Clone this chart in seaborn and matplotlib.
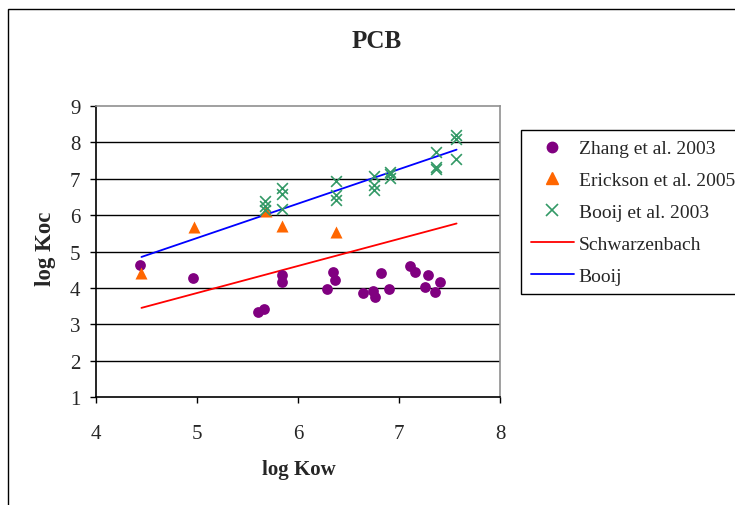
import matplotlib
matplotlib.use("Agg")
import matplotlib.pyplot as plt
import seaborn as sns
import pandas as pd
from matplotlib.patches import Rectangle
from matplotlib.lines import Line2D

# ---- data ----
zhang_x = [4.44, 4.96, 5.60, 5.66, 5.84, 5.84, 6.35, 6.37, 6.29, 6.64, 6.74, 6.76,
           6.82, 6.90, 7.11, 7.16, 7.29, 7.26, 7.36, 7.41]
zhang_y = [4.64, 4.27, 3.33, 3.42, 4.36, 4.16, 4.45, 4.22, 3.98, 3.85, 3.91, 3.74,
           4.40, 3.98, 4.60, 4.45, 4.36, 4.03, 3.89, 4.16]

erickson_x = [4.45, 4.97, 5.68, 5.84, 6.38]
erickson_y = [4.41, 5.67, 6.12, 5.71, 5.53]

booij_x = [5.67, 5.67, 5.67, 5.84, 5.84, 5.84, 6.38, 6.38, 6.38, 6.75, 6.75, 6.75,
           6.91, 6.91, 6.91, 7.37, 7.37, 7.37, 7.56, 7.56, 7.56]
booij_y = [6.39, 6.25, 6.13, 6.75, 6.57, 6.18, 6.94, 6.55, 6.42, 7.07, 6.83, 6.70,
           7.18, 7.13, 7.01, 7.73, 7.31, 7.27, 8.20, 8.09, 7.53]

schwarz_x = [4.45, 7.57]
schwarz_y = [3.45, 5.77]
booijfit_x = [4.45, 7.57]
booijfit_y = [4.85, 7.80]

x_ticks = [4, 5, 6, 7, 8]
y_ticks = [1, 2, 3, 4, 5, 6, 7, 8, 9]

labels = ["Zhang et al. 2003", "Erickson et al. 2005", "Booij et al. 2003",
          "Schwarzenbach", "Booij"]

df_z = pd.DataFrame({"x": zhang_x, "y": zhang_y})
df_e = pd.DataFrame({"x": erickson_x, "y": erickson_y})
df_b = pd.DataFrame({"x": booij_x, "y": booij_y})
df_s = pd.DataFrame({"x": schwarz_x, "y": schwarz_y})
df_bf = pd.DataFrame({"x": booijfit_x, "y": booijfit_y})

sns.set_style("white")
plt.rcParams["font.family"] = ["Liberation Serif", "DejaVu Serif"]

W, H = 735, 506
fig = plt.figure(figsize=(W / 100, H / 100), dpi=100)
ax = fig.add_axes([96 / W, 1 - 398 / H, (500 - 96) / W, (398 - 107) / H])

purple = "#800080"
orange = "#FF6600"
green = "#339966"
red = "#FF0000"
blue = "#0000FF"

sns.lineplot(data=df_s, x="x", y="y", ax=ax, color=red, lw=1.3, zorder=3)
sns.lineplot(data=df_bf, x="x", y="y", ax=ax, color=blue, lw=1.3, zorder=3)
sns.scatterplot(data=df_z, x="x", y="y", ax=ax, color=purple, marker="o", s=60,
                edgecolor=purple, linewidth=0, zorder=4)
sns.scatterplot(data=df_e, x="x", y="y", ax=ax, color=orange, marker="^", s=75,
                edgecolor=orange, linewidth=0, zorder=4)
sns.scatterplot(data=df_b, x="x", y="y", ax=ax, color=green, marker="x", s=60,
                linewidth=1.2, zorder=5)

ax.set_xlim(4, 8)
ax.set_ylim(1, 9)
ax.set_xticks(x_ticks)
ax.set_yticks(y_ticks)
ax.set_xticklabels([str(v) for v in x_ticks], fontsize=15)
ax.set_yticklabels([str(v) for v in y_ticks], fontsize=15)
ax.set_xlabel("")
ax.set_ylabel("")

for yv in y_ticks[1:-1]:
    ax.axhline(yv, color="black", lw=1.0, zorder=1)

for s in ["left", "bottom"]:
    ax.spines[s].set_color("black")
    ax.spines[s].set_linewidth(1.2)
for s in ["top", "right"]:
    ax.spines[s].set_color("#909090")
    ax.spines[s].set_linewidth(1.2)

ax.tick_params(axis="x", direction="out", length=4.3, width=1, color="black", pad=15.5,
               bottom=True)
ax.tick_params(axis="y", direction="out", length=4.3, width=1, color="black", pad=7,
               left=True)

fig.text(299 / W, 1 - 470 / H, "log Kow", fontsize=15, fontweight="bold",
         ha="center", va="center")
fig.text(45 / W, 1 - 249 / H, "log Koc", fontsize=16.5, fontweight="bold",
         ha="center", va="center", rotation=90)
fig.text(377 / W, 1 - 41 / H, "PCB", fontsize=18, fontweight="bold",
         ha="center", va="center")

handles = [
    Line2D([], [], ls="none", marker="o", color=purple, markersize=7.5),
    Line2D([], [], ls="none", marker="^", color=orange, markersize=8.5),
    Line2D([], [], ls="none", marker="x", color=green, markersize=8.5, markeredgewidth=1.2),
    Line2D([], [], color=red, lw=1.3),
    Line2D([], [], color=blue, lw=1.3),
]
leg = fig.legend(handles, labels, loc="upper left",
                 bbox_to_anchor=(521 / W, 1 - 131 / H),
                 bbox_transform=fig.transFigure,
                 fontsize=14, frameon=True, fancybox=False, framealpha=1,
                 edgecolor="black", handlelength=2.2, handletextpad=0.26,
                 labelspacing=0.73, borderpad=0.5, borderaxespad=0)
leg.get_frame().set_linewidth(1.0)

fig.patches.append(Rectangle((8 / W, -0.1), 1.5, 1.1 - 10 / H, transform=fig.transFigure,
                             fill=False, edgecolor="black", lw=1.0))

fig.savefig("out.png", dpi=100)
